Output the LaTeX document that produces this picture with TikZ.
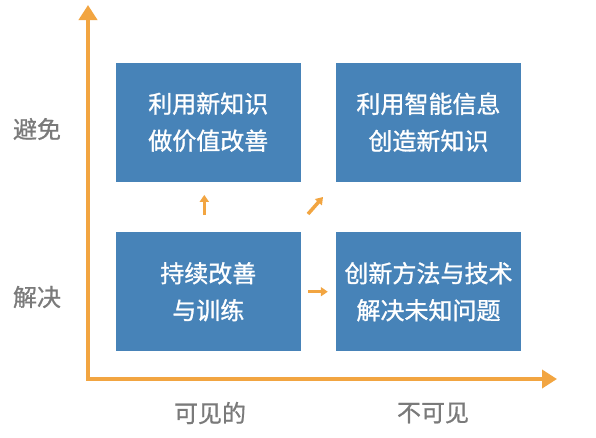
\documentclass[tikz,border=0pt]{standalone}
\usepackage{fontspec}
\setmainfont{Noto Sans CJK SC}
\newfontfamily\boxfont[FakeBold=1.2]{Noto Sans CJK SC}
\newfontfamily\lblfont[FakeBold=0.8]{Noto Sans CJK SC}
\usetikzlibrary{arrows.meta}
\definecolor{boxblue}{HTML}{4783B8}
\definecolor{axisorange}{HTML}{F2A541}
\definecolor{labelgray}{HTML}{7A7A7A}
\tikzset{
  quad/.style={fill=boxblue, draw=none, minimum width=185pt, minimum height=119pt,
    inner sep=0pt, text=white, align=center, font=\boxfont\fontsize{24}{37}\selectfont},
  axislbl/.style={text=labelgray, inner sep=0pt, font=\lblfont\fontsize{24}{30}\selectfont},
  axisline/.style={draw=axisorange, line width=4pt, line join=miter,
    {Triangle[width=18pt,length=15pt]}-{Triangle[width=18pt,length=15pt]}},
  smallarrow/.style={draw=axisorange, line width=3.5pt, -{Triangle[width=9pt,length=7pt]}}
}
\begin{document}
\begin{tikzpicture}[x=1pt,y=-1pt]
\useasboundingbox (0,0) rectangle (596,437);
\fill[white] (0,0) rectangle (596,437);
% axes
\coordinate (T) at (88,5);
\coordinate (R) at (557,379);
\draw[axisline] (T) |- (R);
% boxes
\node[quad] (b1) at (208.3,122.2) {利用新知识\\做价值改善};
\node[quad] (b2) at (428.5,122.2) {利用智能信息\\创造新知识};
\node[quad] (b3) at (208.3,291.7) {持续改善\\与训练};
\node[quad] (b4) at (428.5,291.7) {创新方法与技术\\解决未知问题};
% small arrows
\draw[smallarrow] ([xshift=-4pt,yshift=17pt]b3.north) -- ([xshift=-4pt,yshift=-13pt]b1.south);
\coordinate (d1) at (308,214);
\coordinate (d2) at (323,197);
\draw[smallarrow] (d1) -- (d2);
\draw[smallarrow, shorten <=7pt, shorten >=8pt] (b3.east) -- (b4.west);
% labels
\node[axislbl] (avoid) at (37,129) {避免};
\node[axislbl] (solve) at (37,297) {解决};
\node[axislbl] (vis) at (210,413) {可见的};
\node[axislbl] (invis) at (433,413) {不可见};
\end{tikzpicture}
\end{document}
